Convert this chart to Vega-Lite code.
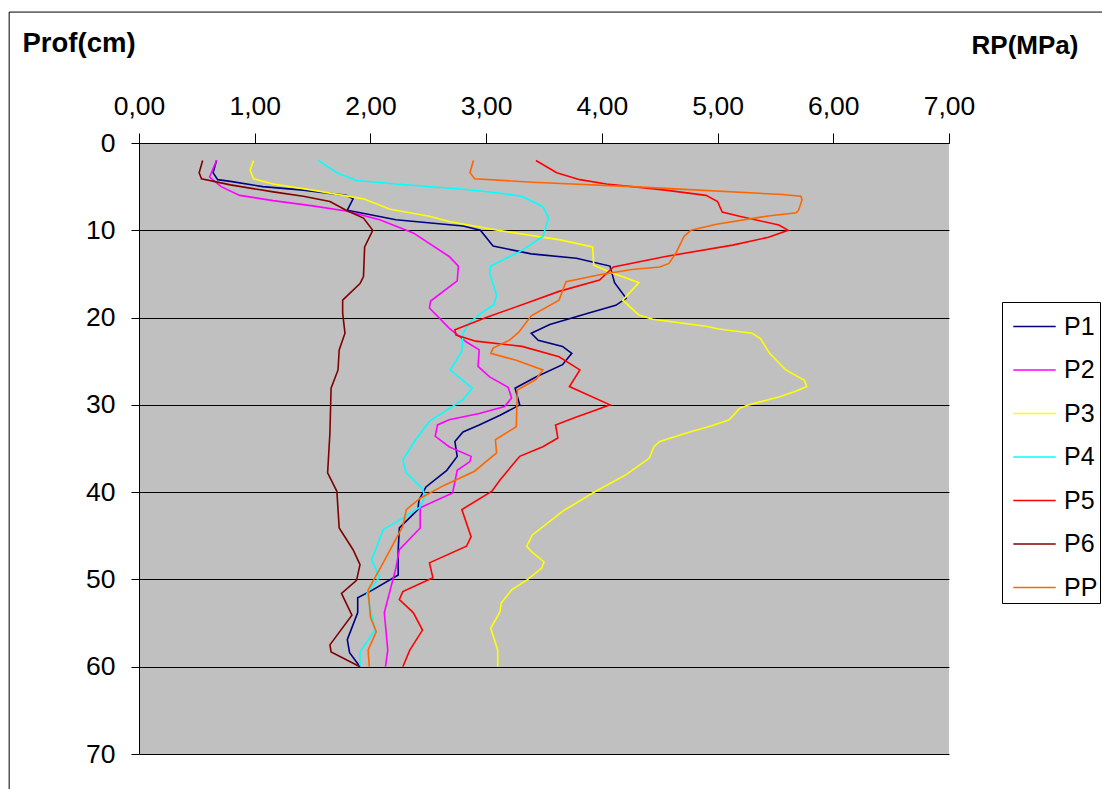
{
  "$schema": "https://vega.github.io/schema/vega-lite/v6.json",
  "autosize": {"type": "none"},
  "width": 810,
  "height": 611,
  "padding": {"left": 139, "top": 143, "right": 153, "bottom": 35},
  "background": "white",
  "config": {
    "view": {"fill": "#C0C0C0", "stroke": null},
    "font": "Liberation Sans"
  },
  "datasets": {
    "rp": [
      {"s":"P1","d":2.0,"v":0.67},{"s":"P1","d":3.4,"v":0.64},{"s":"P1","d":4.2,"v":0.68},{"s":"P1","d":4.4,"v":0.79},{"s":"P1","d":5.0,"v":1.07},{"s":"P1","d":5.4,"v":1.42},{"s":"P1","d":6.0,"v":1.79},{"s":"P1","d":6.4,"v":1.85},{"s":"P1","d":7.7,"v":1.80},{"s":"P1","d":8.2,"v":1.99},{"s":"P1","d":8.8,"v":2.22},{"s":"P1","d":9.5,"v":2.80},{"s":"P1","d":10.0,"v":2.95},{"s":"P1","d":11.8,"v":3.06},{"s":"P1","d":12.7,"v":3.39},{"s":"P1","d":13.2,"v":3.78},{"s":"P1","d":14.1,"v":4.07},{"s":"P1","d":16.0,"v":4.11},{"s":"P1","d":17.8,"v":4.21},{"s":"P1","d":18.6,"v":4.12},{"s":"P1","d":19.5,"v":3.88},{"s":"P1","d":20.8,"v":3.55},{"s":"P1","d":21.8,"v":3.39},{"s":"P1","d":22.6,"v":3.45},{"s":"P1","d":23.3,"v":3.66},{"s":"P1","d":24.1,"v":3.74},{"s":"P1","d":25.4,"v":3.66},{"s":"P1","d":26.8,"v":3.43},{"s":"P1","d":28.1,"v":3.25},{"s":"P1","d":30.0,"v":3.29},{"s":"P1","d":31.2,"v":3.12},{"s":"P1","d":32.3,"v":2.94},{"s":"P1","d":33.1,"v":2.80},{"s":"P1","d":34.2,"v":2.73},{"s":"P1","d":35.9,"v":2.75},{"s":"P1","d":37.5,"v":2.66},{"s":"P1","d":39.4,"v":2.48},{"s":"P1","d":40.9,"v":2.42},{"s":"P1","d":42.0,"v":2.41},{"s":"P1","d":44.1,"v":2.25},{"s":"P1","d":46.6,"v":2.24},{"s":"P1","d":49.5,"v":2.24},{"s":"P1","d":51.2,"v":2.02},{"s":"P1","d":52.1,"v":1.89},{"s":"P1","d":53.8,"v":1.89},{"s":"P1","d":56.9,"v":1.80},{"s":"P1","d":58.4,"v":1.82},{"s":"P1","d":60.0,"v":1.91},
      {"s":"P2","d":2.0,"v":0.67},{"s":"P2","d":3.9,"v":0.61},{"s":"P2","d":5.0,"v":0.71},{"s":"P2","d":6.0,"v":0.87},{"s":"P2","d":6.6,"v":1.16},{"s":"P2","d":7.2,"v":1.50},{"s":"P2","d":7.8,"v":1.79},{"s":"P2","d":8.8,"v":2.08},{"s":"P2","d":10.3,"v":2.37},{"s":"P2","d":13.0,"v":2.68},{"s":"P2","d":14.1,"v":2.76},{"s":"P2","d":15.8,"v":2.75},{"s":"P2","d":18.1,"v":2.52},{"s":"P2","d":18.9,"v":2.51},{"s":"P2","d":21.2,"v":2.68},{"s":"P2","d":22.8,"v":2.83},{"s":"P2","d":23.7,"v":2.94},{"s":"P2","d":25.6,"v":2.93},{"s":"P2","d":26.8,"v":3.03},{"s":"P2","d":28.0,"v":3.19},{"s":"P2","d":29.2,"v":3.22},{"s":"P2","d":30.2,"v":3.16},{"s":"P2","d":31.0,"v":2.94},{"s":"P2","d":31.7,"v":2.68},{"s":"P2","d":32.3,"v":2.58},{"s":"P2","d":33.6,"v":2.56},{"s":"P2","d":34.8,"v":2.68},{"s":"P2","d":35.9,"v":2.87},{"s":"P2","d":36.5,"v":2.86},{"s":"P2","d":37.5,"v":2.75},{"s":"P2","d":38.8,"v":2.73},{"s":"P2","d":40.1,"v":2.71},{"s":"P2","d":41.8,"v":2.43},{"s":"P2","d":44.1,"v":2.43},{"s":"P2","d":46.6,"v":2.25},{"s":"P2","d":48.7,"v":2.22},{"s":"P2","d":53.8,"v":2.12},{"s":"P2","d":58.1,"v":2.15},{"s":"P2","d":60.0,"v":2.13},
      {"s":"P3","d":2.0,"v":0.99},{"s":"P3","d":3.1,"v":0.96},{"s":"P3","d":4.1,"v":0.99},{"s":"P3","d":4.7,"v":1.16},{"s":"P3","d":5.4,"v":1.50},{"s":"P3","d":6.4,"v":1.94},{"s":"P3","d":7.6,"v":2.17},{"s":"P3","d":8.4,"v":2.51},{"s":"P3","d":9.0,"v":2.68},{"s":"P3","d":10.0,"v":3.10},{"s":"P3","d":11.1,"v":3.64},{"s":"P3","d":11.9,"v":3.92},{"s":"P3","d":14.0,"v":3.93},{"s":"P3","d":14.9,"v":4.09},{"s":"P3","d":16.0,"v":4.32},{"s":"P3","d":18.0,"v":4.18},{"s":"P3","d":19.7,"v":4.32},{"s":"P3","d":20.2,"v":4.44},{"s":"P3","d":21.0,"v":4.90},{"s":"P3","d":21.3,"v":5.01},{"s":"P3","d":21.8,"v":5.30},{"s":"P3","d":22.4,"v":5.37},{"s":"P3","d":24.1,"v":5.45},{"s":"P3","d":26.0,"v":5.59},{"s":"P3","d":27.2,"v":5.75},{"s":"P3","d":27.9,"v":5.77},{"s":"P3","d":28.4,"v":5.68},{"s":"P3","d":29.1,"v":5.53},{"s":"P3","d":30.0,"v":5.27},{"s":"P3","d":30.4,"v":5.19},{"s":"P3","d":31.7,"v":5.10},{"s":"P3","d":32.4,"v":4.95},{"s":"P3","d":33.1,"v":4.76},{"s":"P3","d":34.2,"v":4.50},{"s":"P3","d":34.8,"v":4.45},{"s":"P3","d":36.1,"v":4.41},{"s":"P3","d":38.0,"v":4.21},{"s":"P3","d":40.1,"v":3.92},{"s":"P3","d":42.2,"v":3.66},{"s":"P3","d":44.9,"v":3.40},{"s":"P3","d":46.2,"v":3.35},{"s":"P3","d":46.9,"v":3.40},{"s":"P3","d":48.0,"v":3.50},{"s":"P3","d":48.7,"v":3.48},{"s":"P3","d":50.0,"v":3.36},{"s":"P3","d":51.2,"v":3.22},{"s":"P3","d":52.7,"v":3.13},{"s":"P3","d":53.7,"v":3.12},{"s":"P3","d":55.6,"v":3.04},{"s":"P3","d":58.1,"v":3.10},{"s":"P3","d":60.0,"v":3.10},
      {"s":"P4","d":2.0,"v":1.55},{"s":"P4","d":3.4,"v":1.71},{"s":"P4","d":4.3,"v":1.88},{"s":"P4","d":4.7,"v":2.22},{"s":"P4","d":5.3,"v":2.80},{"s":"P4","d":5.7,"v":3.09},{"s":"P4","d":6.1,"v":3.31},{"s":"P4","d":7.3,"v":3.49},{"s":"P4","d":8.6,"v":3.54},{"s":"P4","d":10.7,"v":3.49},{"s":"P4","d":12.3,"v":3.31},{"s":"P4","d":14.1,"v":3.04},{"s":"P4","d":14.9,"v":3.03},{"s":"P4","d":17.4,"v":3.09},{"s":"P4","d":18.5,"v":3.07},{"s":"P4","d":19.1,"v":3.00},{"s":"P4","d":20.5,"v":2.86},{"s":"P4","d":21.8,"v":2.80},{"s":"P4","d":23.9,"v":2.79},{"s":"P4","d":26.0,"v":2.69},{"s":"P4","d":28.1,"v":2.88},{"s":"P4","d":29.4,"v":2.80},{"s":"P4","d":31.9,"v":2.51},{"s":"P4","d":34.2,"v":2.38},{"s":"P4","d":36.3,"v":2.28},{"s":"P4","d":37.8,"v":2.31},{"s":"P4","d":39.6,"v":2.45},{"s":"P4","d":40.5,"v":2.47},{"s":"P4","d":41.7,"v":2.43},{"s":"P4","d":43.2,"v":2.25},{"s":"P4","d":44.3,"v":2.11},{"s":"P4","d":47.8,"v":2.01},{"s":"P4","d":49.7,"v":2.08},{"s":"P4","d":51.6,"v":1.97},{"s":"P4","d":55.8,"v":2.04},{"s":"P4","d":58.3,"v":1.91},{"s":"P4","d":60.0,"v":1.91},
      {"s":"P5","d":2.0,"v":3.43},{"s":"P5","d":3.4,"v":3.61},{"s":"P5","d":4.2,"v":3.81},{"s":"P5","d":4.7,"v":4.04},{"s":"P5","d":5.4,"v":4.55},{"s":"P5","d":6.0,"v":4.90},{"s":"P5","d":6.7,"v":5.00},{"s":"P5","d":7.9,"v":5.04},{"s":"P5","d":8.4,"v":5.19},{"s":"P5","d":9.4,"v":5.53},{"s":"P5","d":10.0,"v":5.61},{"s":"P5","d":10.8,"v":5.44},{"s":"P5","d":11.7,"v":5.13},{"s":"P5","d":13.0,"v":4.55},{"s":"P5","d":14.2,"v":4.10},{"s":"P5","d":15.7,"v":3.98},{"s":"P5","d":17.0,"v":3.63},{"s":"P5","d":18.1,"v":3.40},{"s":"P5","d":20.0,"v":3.00},{"s":"P5","d":21.4,"v":2.73},{"s":"P5","d":22.0,"v":2.74},{"s":"P5","d":22.7,"v":2.91},{"s":"P5","d":23.3,"v":3.31},{"s":"P5","d":24.5,"v":3.63},{"s":"P5","d":26.0,"v":3.81},{"s":"P5","d":27.9,"v":3.72},{"s":"P5","d":30.0,"v":4.07},{"s":"P5","d":30.6,"v":3.95},{"s":"P5","d":31.4,"v":3.78},{"s":"P5","d":32.3,"v":3.60},{"s":"P5","d":33.8,"v":3.62},{"s":"P5","d":34.8,"v":3.49},{"s":"P5","d":35.9,"v":3.29},{"s":"P5","d":38.6,"v":3.12},{"s":"P5","d":39.9,"v":3.05},{"s":"P5","d":42.0,"v":2.79},{"s":"P5","d":45.1,"v":2.87},{"s":"P5","d":46.2,"v":2.83},{"s":"P5","d":48.1,"v":2.51},{"s":"P5","d":49.8,"v":2.54},{"s":"P5","d":51.4,"v":2.28},{"s":"P5","d":52.3,"v":2.25},{"s":"P5","d":53.8,"v":2.37},{"s":"P5","d":55.8,"v":2.45},{"s":"P5","d":58.1,"v":2.34},{"s":"P5","d":60.0,"v":2.28},
      {"s":"P6","d":2.0,"v":0.55},{"s":"P6","d":3.4,"v":0.52},{"s":"P6","d":4.1,"v":0.54},{"s":"P6","d":4.8,"v":0.79},{"s":"P6","d":5.6,"v":1.16},{"s":"P6","d":6.1,"v":1.42},{"s":"P6","d":6.7,"v":1.65},{"s":"P6","d":7.7,"v":1.79},{"s":"P6","d":8.6,"v":1.94},{"s":"P6","d":10.0,"v":2.02},{"s":"P6","d":11.9,"v":1.95},{"s":"P6","d":15.3,"v":1.94},{"s":"P6","d":16.1,"v":1.91},{"s":"P6","d":18.0,"v":1.76},{"s":"P6","d":19.5,"v":1.76},{"s":"P6","d":21.8,"v":1.78},{"s":"P6","d":23.7,"v":1.73},{"s":"P6","d":26.0,"v":1.72},{"s":"P6","d":28.1,"v":1.66},{"s":"P6","d":33.2,"v":1.65},{"s":"P6","d":37.8,"v":1.63},{"s":"P6","d":39.9,"v":1.71},{"s":"P6","d":44.1,"v":1.73},{"s":"P6","d":46.6,"v":1.85},{"s":"P6","d":48.3,"v":1.91},{"s":"P6","d":50.1,"v":1.88},{"s":"P6","d":51.6,"v":1.75},{"s":"P6","d":54.1,"v":1.84},{"s":"P6","d":57.5,"v":1.65},{"s":"P6","d":58.3,"v":1.66},{"s":"P6","d":60.0,"v":1.91},
      {"s":"PP","d":2.0,"v":2.89},{"s":"PP","d":3.4,"v":2.86},{"s":"PP","d":4.1,"v":2.90},{"s":"PP","d":4.5,"v":3.40},{"s":"PP","d":5.0,"v":4.26},{"s":"PP","d":5.4,"v":4.84},{"s":"PP","d":5.9,"v":5.56},{"s":"PP","d":6.1,"v":5.72},{"s":"PP","d":6.5,"v":5.73},{"s":"PP","d":7.7,"v":5.70},{"s":"PP","d":8.0,"v":5.68},{"s":"PP","d":8.4,"v":5.42},{"s":"PP","d":9.3,"v":4.99},{"s":"PP","d":10.0,"v":4.77},{"s":"PP","d":10.7,"v":4.71},{"s":"PP","d":12.6,"v":4.64},{"s":"PP","d":13.8,"v":4.58},{"s":"PP","d":14.2,"v":4.50},{"s":"PP","d":14.5,"v":4.26},{"s":"PP","d":15.1,"v":3.98},{"s":"PP","d":15.9,"v":3.69},{"s":"PP","d":18.0,"v":3.63},{"s":"PP","d":19.8,"v":3.39},{"s":"PP","d":21.7,"v":3.28},{"s":"PP","d":22.6,"v":3.20},{"s":"PP","d":23.5,"v":3.06},{"s":"PP","d":24.1,"v":3.04},{"s":"PP","d":24.9,"v":3.26},{"s":"PP","d":26.0,"v":3.49},{"s":"PP","d":27.1,"v":3.43},{"s":"PP","d":28.3,"v":3.27},{"s":"PP","d":32.5,"v":3.26},{"s":"PP","d":34.0,"v":3.08},{"s":"PP","d":35.5,"v":3.09},{"s":"PP","d":37.6,"v":2.90},{"s":"PP","d":39.2,"v":2.64},{"s":"PP","d":40.7,"v":2.43},{"s":"PP","d":42.0,"v":2.31},{"s":"PP","d":43.9,"v":2.28},{"s":"PP","d":48.1,"v":2.11},{"s":"PP","d":51.2,"v":1.98},{"s":"PP","d":54.3,"v":2.00},{"s":"PP","d":56.0,"v":2.05},{"s":"PP","d":58.1,"v":1.98},{"s":"PP","d":60.0,"v":1.99}
    ],
    "frame": [{"x0": -1.122, "x1": 8.5, "y0": -15.0, "y1": 80}]
  },
  "layer": [
    {
      "data": {"name": "frame"},
      "mark": {"type": "rect", "fill": null, "stroke": "#000000", "strokeWidth": 1, "clip": false},
      "encoding": {
        "x": {"field": "x0", "type": "quantitative", "scale": {"domain": [0, 7], "nice": false, "zero": false}},
        "x2": {"field": "x1"},
        "y": {"field": "y0", "type": "quantitative", "scale": {"domain": [0, 70], "nice": false, "reverse": true}},
        "y2": {"field": "y1"}
      }
    },
    {
      "data": {"name": "rp"},
      "mark": {"type": "line", "strokeWidth": 1.6, "clip": false},
      "encoding": {
        "x": {
          "field": "v", "type": "quantitative",
          "scale": {"domain": [0, 7], "nice": false, "zero": false},
          "axis": {
            "orient": "top", "values": [0,1,2,3,4,5,6,7],
            "labelExpr": "replace(format(datum.value, '.2f'), '.', ',')",
            "title": "RP(MPa)", "titleFontSize": 26, "titleFontWeight": "bold", "titleColor": "#000000",
            "titleAnchor": null, "titleX": 939, "titleY": -98, "titleAlign": "right", "titleBaseline": "middle", "titleAngle": 0,
            "labelFontSize": 26.5, "labelColor": "#000000", "labelPadding": 13, "labelFlush": false, "labelOverlap": false,
            "tickSize": 10, "tickColor": "#000000", "domainColor": "#000000", "grid": false
          }
        },
        "y": {
          "field": "d", "type": "quantitative",
          "scale": {"domain": [0, 70], "nice": false, "reverse": true},
          "axis": {
            "values": [0,10,20,30,40,50,60,70],
            "title": "Prof(cm)", "titleFontSize": 27.5, "titleFontWeight": "bold", "titleColor": "#000000",
            "titleAnchor": null, "titleX": -117, "titleY": -100, "titleAlign": "left", "titleBaseline": "middle", "titleAngle": 0,
            "labelFontSize": 26.5, "labelColor": "#000000", "labelPadding": 16, "labelFlush": false, "labelOverlap": false,
            "tickSize": 8, "tickColor": "#000000", "domainColor": "#000000",
            "grid": true, "gridColor": "#000000", "gridOpacity": 1, "gridWidth": 1
          }
        },
        "order": {"field": "d", "type": "quantitative"},
        "color": {
          "field": "s", "type": "nominal",
          "scale": {"domain": ["P1","P2","P3","P4","P5","P6","PP"], "range": ["#000080","#FF00FF","#FFFF00","#00FFFF","#FF0000","#800000","#FF6600"]},
          "legend": {
            "title": null, "orient": "none", "legendX": 863, "legendY": 159,
            "fillColor": "#FFFFFF", "strokeColor": "#000000", "padding": 2,
            "symbolType": "stroke", "symbolSize": 1800, "symbolStrokeWidth": 1.6, "symbolOffset": 8,
            "labelFontSize": 25, "labelColor": "#000000", "labelOffset": 7, "rowPadding": 7.5
          }
        }
      }
    }
  ]
}
